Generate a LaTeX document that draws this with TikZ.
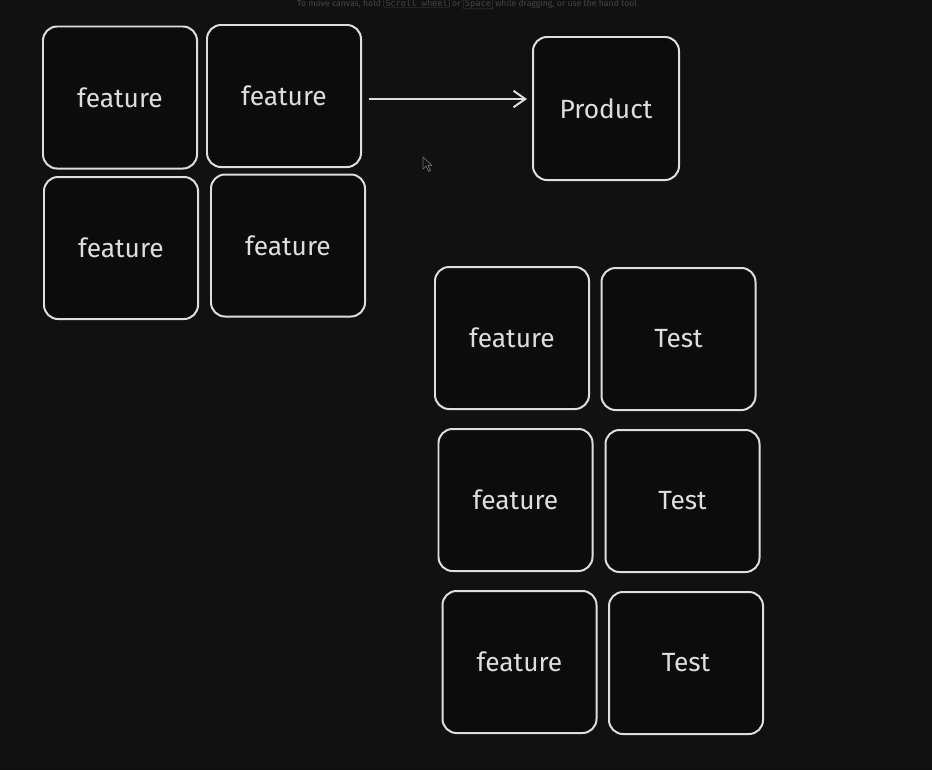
\documentclass[tikz,border=0pt]{standalone}
\usepackage{fontspec}
\setmainfont{Fira Sans}
\setmonofont{DejaVu Sans Mono}
\usepackage{tikz}
\usepackage{xcolor}
\usetikzlibrary{arrows.meta,calc,positioning}
\definecolor{cvBack}{RGB}{17,17,17}
\definecolor{cvInk}{RGB}{222,222,222}
\definecolor{cvHint}{RGB}{70,70,70}
\definecolor{cvFill}{RGB}{12,12,12}
\newcommand{\hintkey}[1]{%
  \tikz[baseline=(k.base)]\node[draw=cvHint,rounded corners=1pt,inner xsep=1.5pt,inner ysep=0.6pt,line width=0.4pt,font=\ttfamily] (k) {#1};%
}
\begin{document}
\begin{tikzpicture}[x=0.03cm,y=-0.03cm,
  card/.style={draw=cvInk,fill=cvFill,line width=1.7pt,rounded corners=12pt,
    minimum width=4.62cm,minimum height=4.26cm,inner sep=0pt,
    text=cvInk,font=\fontsize{22.5}{26}\selectfont},
  flow/.style={draw=cvInk,line width=1.7pt,-{Straight Barb[length=10pt,width=14pt]}}]
  \fill[cvBack] (0,0) rectangle (932,770);
  \useasboundingbox (0,0) rectangle (932,770);
  % hint line of the canvas
  \node[text=cvHint,font=\fontsize{7.4}{8}\selectfont,inner sep=0pt] (hint) at (467,4)
    {To move canvas, hold \hintkey{Scroll wheel} or \hintkey{Space} while dragging, or use the hand tool};
  % left group
  \node[card] (fa) at (120,97.5) {feature};
  \node[card] (fb) at (284,96) {feature};
  \node[card] (fc) at (121,248) {feature};
  \node[card] (fd) at (288,245.5) {feature};
  \node[card,minimum width=4.38cm,minimum height=4.29cm] (prod) at (606,108.5) {Product};
  \draw[flow] ([shift={(7,3)}]fb.east) -- ([shift={(-5,-9.5)}]prod.west);
  % right group
  \node[card] (f1) at (512,338) {feature};
  \node[card] (t1) at (678.5,339) {Test};
  \node[card] (f2) at (515.5,500) {feature};
  \node[card] (t2) at (682.5,501) {Test};
  \node[card] (f3) at (519.5,662) {feature};
  \node[card] (t3) at (686,663) {Test};
  % pointer
  \draw[cvHint!80!white,fill=cvBack,line width=0.6pt,line join=round]
    (423,157) -- (423,169) -- (426,166) -- (428.5,171.5) -- (430.5,170.5) -- (428,165.5) -- (432,165.5) -- cycle;
\end{tikzpicture}
\end{document}
